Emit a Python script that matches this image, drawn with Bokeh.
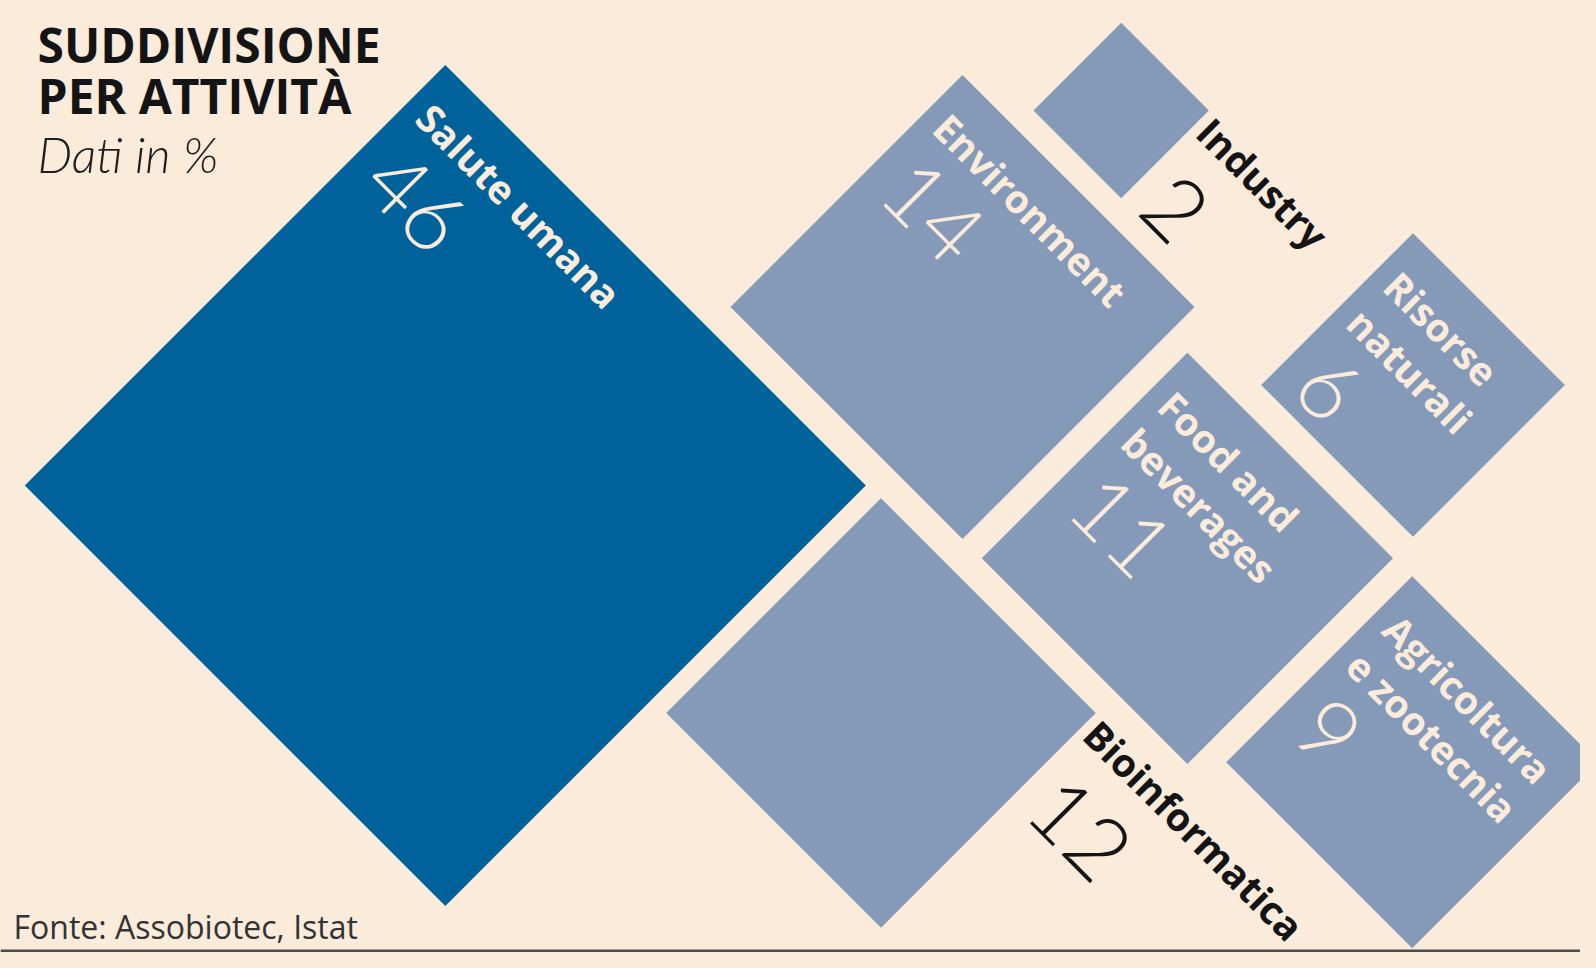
import math
from bokeh.plotting import figure
from bokeh.models import ColumnDataSource, Range1d
from bokeh.core.properties import value
from bokeh.embed import file_html
from bokeh.resources import INLINE

# ---------------- data ----------------
categories = ["Salute umana", "Environment", "Industry", "Food and beverages",
              "Risorse naturali", "Bioinformatica", "Agricoltura e zootecnia"]
label_lines = [["Salute umana"], ["Environment"], ["Industry"], ["Food and", "beverages"],
               ["Risorse", "naturali"], ["Bioinformatica"], ["Agricoltura", "e zootecnia"]]
values = [46, 14, 2, 11, 6, 12, 9]

title_lines = ["SUDDIVISIONE", "PER ATTIVITÀ"]
subtitle = "Dati in %"
source_note = "Fonte: Assobiotec, Istat"

# ---------------- layout (picture pixels) ----------------
centers_x = [444.8, 962.0, 1120.7, 1186.9, 1412.5, 880.5, 1411.7]
centers_y = [485.0, 306.4, 110.0, 557.8, 384.5, 712.5, 761.7]
highlight = [True, False, False, False, False, False, False]
outside = [False, False, True, False, False, True, False]
K = 62.0  # half-diagonal per sqrt(percentage)

BG = "#FAEBDB"
DARK = "#00629A"
LIGHT = "#8599B8"
CREAM = "#FAEBDB"
INK = "#141414"

W, H = 1580, 952
def Y(py):
    return H - py

p = figure(width=W, height=H, output_backend="svg", toolbar_location=None,
           x_range=Range1d(0, W), y_range=Range1d(0, H),
           min_border=0, outline_line_color=None,
           background_fill_color=BG, border_fill_color=BG)
p.axis.visible = False
p.grid.visible = False

xs, ys, cols = [], [], []
lab_x, lab_y, lab_t, lab_c = [], [], [], []
num_x, num_y, num_t, num_c = [], [], [], []
r2 = math.sqrt(2)
for i, v in enumerate(values):
    h = K * math.sqrt(v)
    cx, cy = centers_x[i], centers_y[i]
    xs.append([cx, cx + h, cx, cx - h])
    ys.append([Y(cy - h), Y(cy), Y(cy + h), Y(cy)])
    cols.append(DARK if highlight[i] else LIGHT)
    tx, ty = cx, cy - h

    def pt(a, b):
        return tx + (a - b) / r2, Y(ty + (a + b) / r2)

    lines = label_lines[i]
    if outside[i]:
        side = h * r2
        la, lb = side + 7, [13]
        na, nb = side + 20, 93
        col = INK
    else:
        la = 17
        lb = [47 + 52 * k for k in range(len(lines))]
        na, nb = 25, lb[-1] + 70
        col = CREAM
    for k, line in enumerate(lines):
        x, y = pt(la, lb[k])
        lab_x.append(x); lab_y.append(y); lab_t.append(line); lab_c.append(col)
    x, y = pt(na, nb)
    num_x.append(x); num_y.append(y); num_t.append(str(v)); num_c.append(col)

p.patches(xs="xs", ys="ys", fill_color="color", line_color=None,
          source=ColumnDataSource(dict(xs=xs, ys=ys, color=cols)))

p.text(x="x", y="y", text="t", text_color="c", angle=-math.pi / 4,
       text_font=value("Open Sans"), text_font_style="bold", text_font_size="39px",
       text_align="left", text_baseline="middle",
       source=ColumnDataSource(dict(x=lab_x, y=lab_y, t=lab_t, c=lab_c)))

p.text(x="x", y="y", text="t", text_color="c", angle=-math.pi / 4,
       text_font=value("Lato Light"), text_font_size="88px",
       text_align="left", text_baseline="middle",
       source=ColumnDataSource(dict(x=num_x, y=num_y, t=num_t, c=num_c)))

# titles
p.text(x=[37, 37], y=[Y(44), Y(94.5)], text=title_lines, text_color=INK,
       text_font=value("Open Sans"), text_font_style="bold", text_font_size="48px",
       text_align="left", text_baseline="alphabetic")
p.text(x=[37], y=[Y(153.5)], text=[subtitle], text_color="#1e1e1e",
       text_font=value("Lato Light"), text_font_style="italic", text_font_size="49px",
       text_align="left", text_baseline="alphabetic")
p.text(x=[13], y=[Y(926)], text=[source_note], text_color="#333333",
       text_font=value("Open Sans"), text_font_size="32px",
       text_align="left", text_baseline="alphabetic")

# bottom rule
p.segment(x0=[0], y0=[Y(950.5)], x1=[W], y1=[Y(950.5)], line_color="#4d4d4d", line_width=3)

html = file_html(p, INLINE, title="Suddivisione per attività")
html = html.replace("</head>", "<style>html,body{background:%s;}</style></head>" % BG)
open("out.html", "w").write(html)
